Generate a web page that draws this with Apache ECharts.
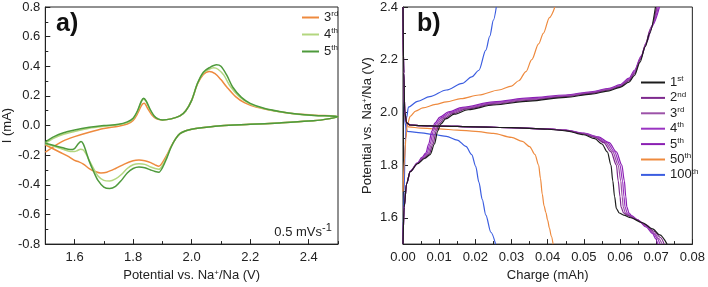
<!DOCTYPE html>
<html><head><meta charset="utf-8">
<script src="https://cdn.jsdelivr.net/npm/echarts@6/dist/echarts.min.js"></script>
<style>html,body{margin:0;padding:0;background:#fff}#c{width:708px;height:287px}</style>
</head><body><div id="c"></div>
<script>
// ---------- Panel a) cyclic voltammetry (x: V, y: mA) ----------
const cvNames = ['3rd', '4th', '5th'];
const cvColors = ['#ee8a3e', '#b3d67f', '#4e9a3c'];
const cv3 = [
  [1.50,-0.18],[1.53,-0.14],[1.56,-0.105],[1.60,-0.075],[1.65,-0.045],[1.70,-0.02],[1.75,-0.005],[1.78,0.01],[1.80,0.035],[1.815,0.08],[1.83,0.14],[1.838,0.15],[1.85,0.115],[1.865,0.07],[1.88,0.045],[1.90,0.038],[1.93,0.045],[1.96,0.065],[1.98,0.10],[2.00,0.17],[2.02,0.28],[2.04,0.345],[2.06,0.365],[2.08,0.35],[2.10,0.31],[2.12,0.26],[2.15,0.195],[2.18,0.155],[2.22,0.125],[2.28,0.10],[2.35,0.08],[2.42,0.07],[2.50,0.06],
  [2.45,0.04],[2.40,0.03],[2.30,0.018],[2.20,0.008],[2.10,-0.002],[2.05,-0.012],[2.00,-0.025],[1.98,-0.035],[1.96,-0.055],[1.945,-0.09],[1.93,-0.14],[1.915,-0.20],[1.90,-0.25],[1.888,-0.275],[1.875,-0.265],[1.86,-0.25],[1.84,-0.237],[1.82,-0.232],[1.80,-0.237],[1.77,-0.26],[1.74,-0.29],[1.71,-0.315],[1.69,-0.32],[1.67,-0.31],[1.65,-0.29],[1.63,-0.26],[1.615,-0.245],[1.60,-0.235],[1.58,-0.21],[1.55,-0.18],[1.52,-0.15],[1.50,-0.13]
];
const cv4 = [
  [1.50,-0.12],[1.53,-0.085],[1.56,-0.06],[1.60,-0.04],[1.65,-0.018],[1.70,-0.005],[1.75,0.005],[1.78,0.02],[1.80,0.045],[1.815,0.095],[1.828,0.16],[1.836,0.178],[1.845,0.16],[1.858,0.105],[1.872,0.062],[1.885,0.045],[1.90,0.038],[1.93,0.045],[1.96,0.065],[1.98,0.10],[2.00,0.17],[2.02,0.285],[2.04,0.355],[2.06,0.38],[2.075,0.39],[2.09,0.38],[2.11,0.34],[2.13,0.27],[2.16,0.20],[2.20,0.145],[2.25,0.113],[2.30,0.093],[2.36,0.077],[2.42,0.068],[2.50,0.06],
  [2.45,0.04],[2.40,0.03],[2.30,0.018],[2.20,0.008],[2.10,-0.002],[2.05,-0.012],[2.00,-0.025],[1.98,-0.035],[1.96,-0.055],[1.945,-0.09],[1.93,-0.143],[1.915,-0.21],[1.90,-0.27],[1.888,-0.295],[1.875,-0.29],[1.86,-0.28],[1.84,-0.262],[1.82,-0.258],[1.80,-0.265],[1.78,-0.29],[1.76,-0.33],[1.74,-0.36],[1.72,-0.375],[1.70,-0.37],[1.68,-0.34],[1.665,-0.29],[1.65,-0.235],[1.64,-0.195],[1.63,-0.165],[1.62,-0.16],[1.61,-0.168],[1.60,-0.175],[1.585,-0.175],[1.56,-0.16],[1.53,-0.14],[1.50,-0.125]
];
const cv5 = [
  [1.50,-0.11],[1.53,-0.075],[1.56,-0.05],[1.60,-0.03],[1.65,-0.012],[1.70,0.0],[1.75,0.008],[1.78,0.025],[1.80,0.05],[1.815,0.10],[1.828,0.165],[1.836,0.185],[1.845,0.165],[1.858,0.11],[1.872,0.065],[1.885,0.045],[1.90,0.038],[1.93,0.045],[1.96,0.065],[1.98,0.10],[2.00,0.17],[2.02,0.285],[2.04,0.36],[2.06,0.39],[2.085,0.41],[2.10,0.40],[2.12,0.34],[2.14,0.26],[2.17,0.19],[2.20,0.15],[2.25,0.115],[2.30,0.095],[2.36,0.078],[2.42,0.068],[2.50,0.06],
  [2.45,0.04],[2.40,0.03],[2.30,0.018],[2.20,0.008],[2.10,-0.002],[2.05,-0.012],[2.00,-0.025],[1.98,-0.035],[1.96,-0.055],[1.945,-0.09],[1.93,-0.145],[1.915,-0.22],[1.90,-0.285],[1.888,-0.315],[1.875,-0.31],[1.86,-0.30],[1.84,-0.285],[1.82,-0.28],[1.80,-0.29],[1.78,-0.32],[1.76,-0.37],[1.74,-0.41],[1.72,-0.425],[1.70,-0.415],[1.68,-0.37],[1.665,-0.31],[1.65,-0.24],[1.64,-0.18],[1.63,-0.125],[1.622,-0.108],[1.612,-0.125],[1.60,-0.155],[1.585,-0.162],[1.56,-0.15],[1.53,-0.135],[1.50,-0.12]
];
const cvData = [cv3, cv4, cv5];
const cvXTicks = [1.6, 1.8, 2.0, 2.2, 2.4];

// ---------- Panel b) charge / discharge (x: mAh, y: V) ----------
const gcNames = ['1st', '2nd', '3rd', '4th', '5th', '50th', '100th'];
const gcColors = ['#1c1c1c', '#7e2a8e', '#9c52a8', '#9a34c2', '#8a1fb2', '#ee8a3e', '#3b5de0'];
const dis1 = [[0,2.4],[0.0002,2.15],[0.0005,2.0],[0.001,1.96],[0.002,1.952],[0.005,1.95],[0.01,1.948],[0.02,1.945],[0.03,1.942],[0.04,1.936],[0.045,1.93],[0.05,1.915],[0.053,1.9],[0.055,1.88],[0.0565,1.85],[0.0575,1.8],[0.058,1.74],[0.0585,1.68],[0.059,1.635],[0.0598,1.618],[0.061,1.61],[0.063,1.6],[0.066,1.582],[0.069,1.558],[0.071,1.535],[0.073,1.50]];
const dis2 = [[0,2.4],[0.0002,2.15],[0.0005,2.0],[0.001,1.96],[0.002,1.952],[0.005,1.95],[0.01,1.948],[0.02,1.945],[0.03,1.942],[0.04,1.937],[0.045,1.932],[0.05,1.918],[0.053,1.905],[0.0555,1.885],[0.0575,1.85],[0.059,1.8],[0.0595,1.74],[0.06,1.68],[0.0603,1.64],[0.061,1.618],[0.062,1.61],[0.064,1.596],[0.067,1.575],[0.0695,1.548],[0.0712,1.525],[0.0722,1.50]];
const dis3 = [[0,2.4],[0.0002,2.15],[0.0005,2.0],[0.001,1.96],[0.002,1.952],[0.005,1.95],[0.01,1.948],[0.02,1.945],[0.03,1.942],[0.04,1.937],[0.045,1.932],[0.05,1.919],[0.053,1.907],[0.056,1.885],[0.058,1.85],[0.0595,1.8],[0.0602,1.74],[0.0606,1.68],[0.0609,1.64],[0.0615,1.618],[0.0623,1.61],[0.0645,1.594],[0.0672,1.57],[0.0695,1.542],[0.0708,1.52],[0.0716,1.50]];
const dis4 = [[0,2.4],[0.0002,2.15],[0.0005,2.0],[0.001,1.96],[0.002,1.952],[0.005,1.95],[0.01,1.948],[0.02,1.945],[0.03,1.942],[0.04,1.937],[0.045,1.933],[0.05,1.92],[0.0535,1.907],[0.0565,1.885],[0.0585,1.85],[0.06,1.8],[0.0607,1.74],[0.0611,1.68],[0.0614,1.64],[0.062,1.618],[0.0627,1.61],[0.0648,1.592],[0.0673,1.567],[0.0693,1.54],[0.0704,1.52],[0.071,1.50]];
const dis5 = [[0,2.4],[0.0002,2.15],[0.0005,2.0],[0.001,1.96],[0.002,1.952],[0.005,1.95],[0.01,1.948],[0.02,1.945],[0.03,1.942],[0.04,1.937],[0.045,1.933],[0.05,1.921],[0.054,1.907],[0.057,1.885],[0.059,1.85],[0.0605,1.8],[0.0612,1.74],[0.0616,1.68],[0.0619,1.64],[0.0625,1.618],[0.0632,1.608],[0.065,1.59],[0.0672,1.565],[0.069,1.54],[0.0699,1.52],[0.0704,1.50]];
const dis50 = [[0,2.4],[0.0002,2.1],[0.0006,1.97],[0.0015,1.945],[0.005,1.94],[0.01,1.937],[0.015,1.933],[0.02,1.928],[0.025,1.92],[0.03,1.905],[0.033,1.89],[0.035,1.87],[0.0365,1.84],[0.0375,1.8],[0.038,1.75],[0.0385,1.69],[0.039,1.645],[0.0395,1.62],[0.040,1.59],[0.0405,1.56],[0.041,1.53],[0.0415,1.50]];
const dis100 = [[0,2.4],[0.0002,2.1],[0.0005,1.96],[0.0012,1.928],[0.005,1.922],[0.009,1.915],[0.012,1.909],[0.015,1.895],[0.0174,1.871],[0.019,1.84],[0.0201,1.795],[0.021,1.734],[0.0219,1.67],[0.0229,1.61],[0.0243,1.545],[0.0256,1.50]];
const chg1 = [[0,1.5],[0.0003,1.64],[0.001,1.73],[0.002,1.775],[0.004,1.805],[0.006,1.825],[0.0075,1.84],[0.0087,1.88],[0.0096,1.93],[0.0104,1.955],[0.0118,1.975],[0.0142,1.993],[0.018,2.01],[0.025,2.028],[0.035,2.043],[0.045,2.057],[0.052,2.069],[0.057,2.082],[0.060,2.095],[0.0625,2.115],[0.064,2.14],[0.0655,2.19],[0.067,2.25],[0.0682,2.3],[0.0698,2.4]];
const chg2 = [[0,1.5],[0.0003,1.64],[0.001,1.73],[0.002,1.775],[0.004,1.805],[0.0058,1.826],[0.0072,1.842],[0.0083,1.88],[0.0092,1.93],[0.0100,1.956],[0.0114,1.977],[0.0138,1.996],[0.0176,2.013],[0.025,2.031],[0.035,2.046],[0.045,2.06],[0.052,2.072],[0.057,2.085],[0.060,2.098],[0.0625,2.12],[0.064,2.146],[0.0656,2.2],[0.0669,2.25],[0.0683,2.31],[0.0701,2.4]];
const chg3 = [[0,1.5],[0.0003,1.64],[0.001,1.73],[0.002,1.775],[0.004,1.806],[0.0056,1.827],[0.0069,1.843],[0.0079,1.88],[0.0088,1.93],[0.0096,1.957],[0.011,1.979],[0.0134,1.998],[0.0172,2.015],[0.025,2.034],[0.035,2.049],[0.045,2.062],[0.052,2.074],[0.057,2.087],[0.060,2.1],[0.0625,2.123],[0.064,2.15],[0.0657,2.205],[0.0671,2.26],[0.0685,2.32],[0.0703,2.4]];
const chg4 = [[0,1.5],[0.0003,1.64],[0.001,1.73],[0.002,1.776],[0.004,1.807],[0.0054,1.828],[0.0066,1.844],[0.0075,1.88],[0.0084,1.93],[0.0092,1.958],[0.0106,1.98],[0.013,2.0],[0.0168,2.017],[0.025,2.037],[0.035,2.052],[0.045,2.064],[0.052,2.076],[0.057,2.089],[0.060,2.102],[0.0625,2.126],[0.064,2.154],[0.0658,2.21],[0.0673,2.265],[0.0687,2.325],[0.0706,2.4]];
const chg5 = [[0,1.5],[0.0003,1.64],[0.001,1.73],[0.002,1.777],[0.004,1.808],[0.0052,1.829],[0.0063,1.845],[0.0071,1.88],[0.008,1.93],[0.0088,1.959],[0.0102,1.982],[0.0126,2.002],[0.0164,2.019],[0.025,2.04],[0.035,2.055],[0.045,2.066],[0.052,2.078],[0.057,2.091],[0.060,2.105],[0.0625,2.13],[0.064,2.16],[0.0659,2.215],[0.0675,2.27],[0.0689,2.33],[0.0709,2.4]];
const chg50 = [[0,1.7],[0.0004,1.82],[0.0008,1.9],[0.0012,1.955],[0.002,1.985],[0.0035,2.005],[0.0055,2.017],[0.009,2.03],[0.012,2.04],[0.016,2.052],[0.021,2.066],[0.0265,2.085],[0.03,2.1],[0.032,2.12],[0.034,2.155],[0.0356,2.2],[0.0375,2.26],[0.0388,2.3],[0.0405,2.36],[0.042,2.4]];
const chg100 = [[0,1.5],[0.0003,1.7],[0.0006,1.88],[0.001,1.98],[0.0015,2.02],[0.004,2.042],[0.0074,2.06],[0.012,2.085],[0.0164,2.11],[0.019,2.135],[0.021,2.16],[0.0229,2.236],[0.024,2.29],[0.025,2.35],[0.0258,2.4]];
const gcDischarge = [dis1, dis2, dis3, dis4, dis5, dis50, dis100];
const gcCharge = [chg1, chg2, chg3, chg4, chg5, chg50, chg100];
const gcYTicks = [1.6, 1.8, 2.0, 2.2, 2.4];

// ---------- build ----------
const FONT = 'Liberation Sans, Arial, sans-serif';
const TXT = '#222';
const keyA = n => 'a:' + n, keyB = n => 'b:' + n;
const supFmt = k => { const n = k.slice(2); const m = n.match(/^(\d+)(\D+)$/); return '{n|' + m[1] + '}{s|' + m[2] + '}'; };
const legendRich = {
  n: { fontSize: 13, fontFamily: FONT, color: TXT, lineHeight: 15 },
  s: { fontSize: 8, fontFamily: FONT, color: TXT, verticalAlign: 'top', lineHeight: 9 }
};
const nameRich = {
  a: { fontSize: 13, fontFamily: FONT, color: TXT },
  s: { fontSize: 8, fontFamily: FONT, color: TXT, verticalAlign: 'top', lineHeight: 8 }
};
const lineCommon = { show: true, onZero: false, lineStyle: { color: '#222', width: 1 } };

function mainX(grid, min, max, interval, opts) {
  return Object.assign({
    type: 'value', gridIndex: grid, min, max, interval, position: 'bottom',
    axisLine: lineCommon, splitLine: { show: false },
    axisTick: { show: true, inside: true, length: 5, lineStyle: { color: '#222' } },
    axisLabel: { show: true, fontSize: 13, fontFamily: FONT, color: TXT, margin: 7 },
    nameLocation: 'middle', nameGap: 21
  }, opts);
}

const xAxis = [
  mainX(0, 1.5, 2.5, 0.1, {
    axisTick: { show: true, inside: true, length: 3, lineStyle: { color: '#222' } },
    axisLabel: { show: true, fontSize: 13, fontFamily: FONT, color: TXT, margin: 7, customValues: cvXTicks, formatter: v => v.toFixed(1) },
    name: '{a|Potential vs. Na}{s|+}{a|/Na (V)}', nameTextStyle: { rich: nameRich }
  }),
  mainX(0, 1.5, 2.5, 0.1, {
    axisLine: { show: false, onZero: false },
    axisTick: { show: true, inside: true, length: 5, customValues: cvXTicks, lineStyle: { color: '#222' } },
    axisLabel: { show: false }
  }),
  mainX(1, 0, 0.08, 0.01, {
    minorTick: { show: true, splitNumber: 2, length: 3, lineStyle: { color: '#222' } },
    axisLabel: { show: true, fontSize: 13, fontFamily: FONT, color: TXT, margin: 7, formatter: v => v.toFixed(2) },
    name: 'Charge (mAh)', nameTextStyle: { fontSize: 13, fontFamily: FONT, color: TXT }
  })
];

function mainY(grid, min, max, interval, opts) {
  return Object.assign({
    type: 'value', gridIndex: grid, min, max, interval, position: 'left',
    axisLine: lineCommon, splitLine: { show: false },
    axisTick: { show: true, inside: true, length: 5, lineStyle: { color: '#222' } },
    axisLabel: { show: true, fontSize: 13, fontFamily: FONT, color: TXT, margin: 5 },
    nameLocation: 'middle'
  }, opts);
}
const yAxis = [
  mainY(0, -0.8, 0.8, 0.2, {
    minorTick: { show: true, splitNumber: 2, length: 3, lineStyle: { color: '#222' } },
    axisLabel: { show: true, fontSize: 13, fontFamily: FONT, color: TXT, margin: 5, formatter: v => v.toFixed(1) },
    name: 'I (mA)', nameGap: 26, nameTextStyle: { fontSize: 13, fontFamily: FONT, color: TXT }
  }),
  mainY(1, 1.5, 2.4, 0.1, {
    axisTick: { show: true, inside: true, length: 3, lineStyle: { color: '#222' } },
    axisLabel: { show: true, fontSize: 13, fontFamily: FONT, color: TXT, margin: 5, customValues: gcYTicks, formatter: v => v.toFixed(1) },
    name: '{a|Potential vs. Na}{s|+}{a|/Na (V)}', nameGap: 29, nameTextStyle: { rich: nameRich }
  }),
  mainY(1, 1.5, 2.4, 0.1, {
    axisLine: { show: false, onZero: false },
    axisTick: { show: true, inside: true, length: 5, customValues: gcYTicks, lineStyle: { color: '#222' } },
    axisLabel: { show: false }
  })
];

const series = [];
cvNames.forEach((n, i) => {
  series.push({
    name: keyA(n), type: 'line', xAxisIndex: 0, yAxisIndex: 0, data: cvData[i],
    symbol: 'none', smooth: 0.3, color: cvColors[i],
    lineStyle: { width: 1.5, color: cvColors[i] }, z: 2 + i
  });
});
gcNames.forEach((n, i) => {
  [gcDischarge[i], gcCharge[i]].forEach(d => {
    series.push({
      name: keyB(n), type: 'line', xAxisIndex: 2, yAxisIndex: 1, data: d,
      symbol: 'none', smooth: 0.3, smoothMonotone: 'x', color: gcColors[i],
      lineStyle: { width: 1.2, color: gcColors[i] }, z: 10 - i
    });
  });
});

const option = {
  animation: false,
  backgroundColor: '#fff',
  textStyle: { fontFamily: FONT },
  grid: [
    { left: 43, top: 7, width: 295, height: 238, show: true, borderColor: '#222', borderWidth: 1, containLabel: false },
    { left: 403, top: 7, width: 293, height: 238, show: true, borderColor: '#222', borderWidth: 1, containLabel: false }
  ],
  title: [
    { text: 'a)', left: 51, top: 7, textStyle: { fontSize: 25, fontWeight: 'bold', fontFamily: FONT, color: '#111' } },
    { text: 'b)', left: 412, top: 7, textStyle: { fontSize: 25, fontWeight: 'bold', fontFamily: FONT, color: '#111' } }
  ],
  legend: [
    { data: cvNames.map(keyA), orient: 'vertical', left: 302, top: 10, itemWidth: 17, itemHeight: 2, itemGap: 3, icon: 'rect',
      formatter: supFmt, textStyle: { rich: legendRich }, padding: 0 },
    { data: gcNames.map(keyB), orient: 'vertical', left: 641, top: 75, itemWidth: 24, itemHeight: 2, itemGap: 1.4, icon: 'rect',
      formatter: supFmt, textStyle: { rich: legendRich }, padding: 0 }
  ],
  graphic: [
    { type: 'text', right: 708 - 322, top: 226, z: 100,
      style: { text: '0.5 mVs', font: '13px ' + FONT, fill: TXT } },
    { type: 'text', left: 322, top: 222, z: 100,
      style: { text: '-1', font: '11px ' + FONT, fill: TXT } }
  ],
  xAxis, yAxis, series
};
const chart = echarts.init(document.getElementById('c'), null, { renderer: 'canvas' });
chart.setOption(option);
</script>
</body></html>
